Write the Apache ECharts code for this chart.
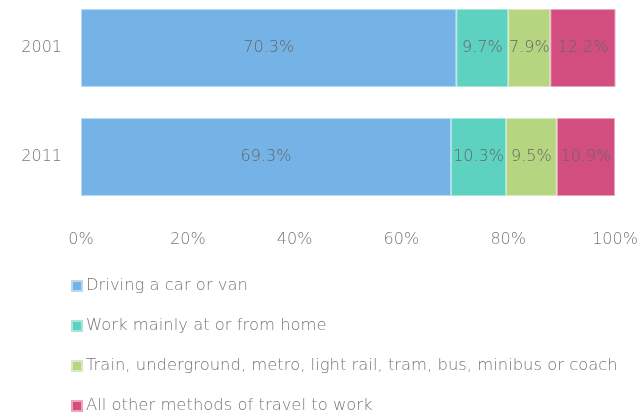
<!DOCTYPE html>
<html><head><meta charset="utf-8">
<script src="https://cdn.jsdelivr.net/npm/echarts@6/dist/echarts.min.js"></script>
<style>html,body{margin:0;padding:0;background:#fff}#c{width:640px;height:413px}</style>
</head><body><div id="c"></div>
<script>
const categories = ['2001', '2011'];
const seriesNames = ['Driving a car or van', 'Work mainly at or from home', 'Train, underground, metro, light rail, tram, bus, minibus or coach', 'All other methods of travel to work'];
const driving = [70.3, 69.3];
const home = [9.7, 10.3];
const transit = [7.9, 9.5];
const other = [12.2, 10.9];
const xTicks = [0, 20, 40, 60, 80, 100];
const colors = ['#75B3E6', '#5DD2C0', '#B5D581', '#D24E7E'];
const borders = ['#B9D9F3', '#A8E6DC', '#D8EAC0', '#EBA4BE'];
const values = [driving, home, transit, other];
const font = '"DejaVu Sans", sans-serif';
const fw = 200;
const chart = echarts.init(document.getElementById('c'));
chart.setOption({
  animation: false,
  grid: { left: 81, right: 25, top: -6.5, height: 218, outerBoundsMode: 'none' },
  legend: {
    orient: 'vertical', left: 66, top: 273, height: 170, itemWidth: 10, itemHeight: 10, itemGap: 24,
    icon: 'rect',
    textStyle: { fontFamily: font, fontSize: 16.4, color: '#777', fontWeight: fw, padding: [0, 0, 0, -1] },
    data: seriesNames
  },
  xAxis: {
    type: 'value', min: 0, max: 100, interval: 20,
    axisLine: { show: false }, axisTick: { show: false }, splitLine: { show: false },
    axisLabel: { formatter: v => xTicks.includes(v) ? v + '%' : '', fontFamily: font, fontSize: 16, color: '#777', margin: 20, fontWeight: fw }
  },
  yAxis: {
    type: 'category', data: categories, inverse: true,
    axisLine: { show: false }, axisTick: { show: false },
    axisLabel: { fontFamily: font, fontSize: 16, color: '#777', margin: 19, fontWeight: fw }
  },
  series: seriesNames.map((n, i) => ({
    name: n, type: 'bar', stack: 'a', data: values[i], barCategoryGap: '28.5%',
    itemStyle: { color: colors[i], borderColor: borders[i], borderWidth: 1 },
    label: { show: true, position: 'inside', formatter: p => p.value.toFixed(1) + '%', fontFamily: font, fontSize: 16, color: '#666', fontWeight: fw }
  }))
});
</script></body></html>
